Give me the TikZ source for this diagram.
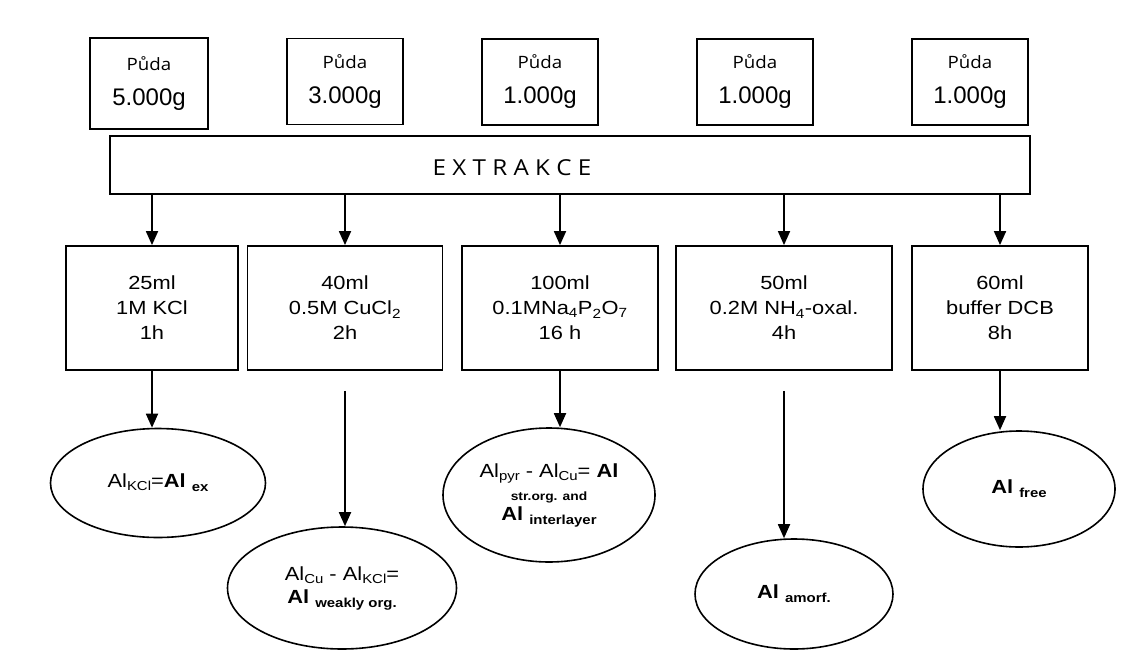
\documentclass[tikz,border=0pt]{standalone}
\usepackage{fontspec}
\setmainfont{Liberation Sans}
\newfontfamily\boxfont{Liberation Sans}[FakeStretch=1.15]
\newfontfamily\pudafont{Open Sans}[FakeStretch=1.1]
\usetikzlibrary{shapes.geometric}
\usetikzlibrary{arrows.meta}
\usetikzlibrary{calc}

% lowered indices in the fractions
\newcommand{\lo}[1]{\raisebox{-3pt}{\fontsize{13}{13}\selectfont #1}}
\newcommand{\lob}[1]{\raisebox{-4pt}{\fontsize{13}{13}\selectfont\bfseries #1}}

\begin{document}
\begin{tikzpicture}[x=1pt,y=-1pt,
  soil/.style={draw, line width=1.8pt, minimum width=116pt, minimum height=86pt, inner sep=0pt, align=center},
  solvent/.style={draw, line width=1.8pt, minimum height=124pt, inner sep=0pt, align=center,
    font=\boxfont\fontsize{19}{25}\selectfont},
  fraction/.style={draw, ellipse, line width=1.6pt, inner sep=0pt, align=center,
    font=\boxfont\fontsize{19}{23}\selectfont},
  arr/.style={line width=1.8pt, -{Triangle[length=14pt,width=12pt]}}
]
\useasboundingbox (0,0) rectangle (1139,650);

%---------------------------------------
% Soil samples
%---------------------------------------
\def\puda{{\pudafont\fontsize{17}{20}\selectfont Půda}\\[17pt]}
\node[soil, minimum width=118pt, minimum height=91pt] (s1) at (149,83.5)
  {\puda{\fontsize{24}{28}\selectfont 5.000g}};
\node[soil] (s2) at (345,81.5) {\puda{\fontsize{24}{28}\selectfont 3.000g}};
\node[soil] (s3) at (540,82) {\puda{\fontsize{24}{28}\selectfont 1.000g}};
\node[soil] (s4) at (755,82) {\puda{\fontsize{24}{28}\selectfont 1.000g}};
\node[soil] (s5) at (970,82) {\puda{\fontsize{24}{28}\selectfont 1.000g}};

% ---- Extraction bar ----
\node[draw, line width=1.8pt, minimum width=920pt, minimum height=58pt] (ext) at (570,165) {};
\node[font=\pudafont\fontsize{22}{26}\selectfont] (exttxt) at (512,168) {E X T R A K C E};

%---------------------------------------
% Extraction agents
%---------------------------------------
\node[solvent, minimum width=172pt] (m1) at (152,308) {25ml\\1M KCl\\1h};
\node[solvent, minimum width=195pt] (m2) at (345,308) {40ml\\0.5M CuCl\textsubscript{2}\\2h};
\node[solvent, minimum width=196pt] (m3) at (560,308)
  {100ml\\0.1MNa\textsubscript{4}P\textsubscript{2}O\textsubscript{7}\\16 h};
\node[solvent, minimum width=216pt] (m4) at (784,308) {50ml\\0.2M NH\textsubscript{4}-oxal.\\4h};
\node[solvent, minimum width=176pt] (m5) at (1000,308) {60ml\\buffer DCB\\8h};

\draw[arr] (ext.south -| m1.north) -- (m1.north);
\draw[arr] (ext.south -| m2.north) -- (m2.north);
\draw[arr] (ext.south -| m3.north) -- (m3.north);
\draw[arr] (ext.south -| m4.north) -- (m4.north);
\draw[arr] (ext.south -| m5.north) -- (m5.north);

%---------------------------------------
% Al fractions
%---------------------------------------
\node[fraction, minimum width=215pt, minimum height=109pt] (e1) at (158,483)
  {Al\lo{KCl}=\textbf{Al} \lob{ex}};
\node[fraction, minimum width=229pt, minimum height=122pt] (e2) at (342,588)
  {Al\lo{Cu} - Al\lo{KCl}=\\\textbf{Al} \lob{weakly org.}};
\node[fraction, minimum width=212pt, minimum height=134pt] (e3) at (549,495)
  {Al\lo{pyr} - Al\lo{Cu}= \textbf{Al}\\{\fontsize{12}{14}\selectfont\bfseries str.org. and}\\[-3pt]\textbf{Al} \lob{interlayer}};
\node[fraction, minimum width=198pt, minimum height=110pt] (e4) at (794,594)
  {\textbf{Al} \lob{amorf.}};
\node[fraction, minimum width=192pt, minimum height=116pt] (e5) at (1019,489)
  {\textbf{Al} \lob{free}};

\draw[arr] (m1.south) -- (m1.south |- e1.north);
\draw[arr] ([yshift=-20pt]m2.south) -- (m2.south |- e2.north);
\draw[arr] (m3.south) -- (m3.south |- e3.north);
\draw[arr] ([yshift=-20pt]m4.south) -- (m4.south |- e4.north);
\draw[arr] (m5.south) -- (m5.south |- e5.north);

\end{tikzpicture}
\end{document}
